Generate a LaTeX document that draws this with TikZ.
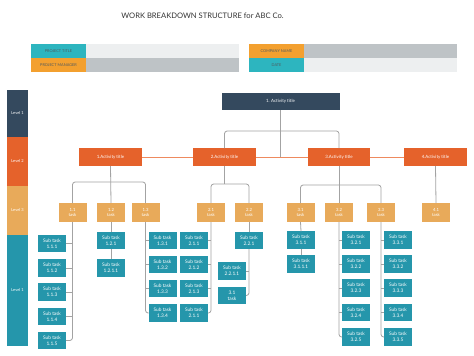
\documentclass[tikz,border=0pt]{standalone}
\usepackage{fontspec}
\setmainfont{Lato}
\usetikzlibrary{calc}
\definecolor{navy}{HTML}{34495E}
\definecolor{actor}{HTML}{E5622B}
\definecolor{taskor}{HTML}{E8AA5A}
\definecolor{subteal}{HTML}{2596AB}
\definecolor{hdteal}{HTML}{2DB5BF}
\definecolor{hdor}{HTML}{F3A02F}
\definecolor{lgray}{HTML}{EDEFF0}
\definecolor{dgray}{HTML}{BEC3C6}
\definecolor{wirec}{HTML}{A3A3A3}
\definecolor{orwirec}{HTML}{EE8A5E}
\definecolor{hdtext}{HTML}{505A5E}
\begin{document}
\begin{tikzpicture}[x=0.75pt,y=-0.75pt,
  box/.style={rectangle, inner sep=0pt, outer sep=0pt, text=white, align=center},
  l1box/.style={box, fill=navy, minimum width=88.5pt, minimum height=13pt, font=\fontsize{3.3}{4}\selectfont},
  l2box/.style={box, fill=actor, minimum width=47pt, minimum height=13.5pt, font=\fontsize{3.3}{4}\selectfont},
  l3box/.style={box, fill=taskor, minimum width=21pt, minimum height=14.25pt, font=\fontsize{3.2}{4.4}\selectfont},
  l4box/.style={box, fill=subteal, minimum width=21pt, minimum height=13pt, font=\fontsize{3.6}{4.6}\selectfont},
  lvbar/.style={box, minimum width=15.75pt, font=\fontsize{3}{3.6}\selectfont},
  hdlab/.style={box, minimum width=41.25pt, minimum height=10.5pt, text=hdtext, font=\fontsize{2.9}{3.4}\selectfont},
  hdval/.style={box, minimum width=114.75pt, minimum height=10.5pt, anchor=west},
  wire/.style={draw=wirec, line width=0.6pt, rounded corners=2pt},
  orwire/.style={draw=orwirec, line width=0.6pt}
]
\useasboundingbox (0,0) rectangle (474,356);
\fill[white] (0,0) rectangle (474,356);

% title
\node[font=\fontsize{5.7}{6.5}\selectfont, text=black!80] (title) at (202.5,15.5) {WORK BREAKDOWN STRUCTURE for ABC Co.};

% header
\node[hdlab, fill=hdteal] (ptl) at (58.5,51) {PROJECT TITLE};
\node[hdval, fill=lgray] (ptv) at (ptl.east) {};
\node[hdlab, fill=hdor] (pml) at (58.5,65) {PROJECT MANAGER};
\node[hdval, fill=dgray] (pmv) at (pml.east) {};
\node[hdlab, fill=hdor] (cnl) at (276.5,51) {COMPANY NAME};
\node[hdval, fill=dgray] (cnv) at (cnl.east) {};
\node[hdlab, fill=hdteal] (dtl) at (276.5,65) {DATE};
\node[hdval, fill=lgray] (dtv) at (dtl.east) {};

% level bars
\node[lvbar, fill=navy, minimum height=35.25pt] (lv1) at (17.5,113.5) {Level 1};
\node[lvbar, fill=actor, minimum height=36.75pt] (lv2) at (17.5,161.5) {Level 2};
\node[lvbar, fill=taskor, minimum height=36.75pt] (lv3) at (17.5,210.5) {Level 3};
\node[lvbar, fill=subteal, minimum height=83.25pt] (lv4) at (17.5,290.5) {Level 1};

% level 1
\node[l1box] (L1) at (280.5,101.5) {1. Activity title};

% level 2
\node[l2box] (A1) at (110.5,157) {1.Activity title};
\node[l2box] (A2) at (224.5,157) {2.Activity title};
\node[l2box] (A3) at (339,157) {3.Activity title};
\node[l2box] (A4) at (435.5,157) {4.Activity title};

% level 3
\node[l3box] (T11) at (72.5,212.5) {1.1\\task};
\node[l3box] (T12) at (111,212.5) {1.2\\task};
\node[l3box] (T13) at (145.5,212.5) {1.3\\task};
\node[l3box] (T21) at (211,212.5) {2.1\\task};
\node[l3box] (T22) at (249,212.5) {2.2\\task};
\node[l3box] (T31) at (300.5,212.5) {3.1\\task};
\node[l3box] (T32) at (339,212.5) {3.2\\task};
\node[l3box] (T33) at (381,212.5) {3.3\\task};
\node[l3box] (T41) at (436,212.5) {4.1\\task};

% level 4 : 1.1
\node[l4box] (S111) at (52,243.5) {Sub task\\1.1.1};
\node[l4box] (S112) at (52,268) {Sub task\\1.1.2};
\node[l4box] (S113) at (52,292) {Sub task\\1.1.3};
\node[l4box] (S114) at (52,316.5) {Sub task\\1.1.4};
\node[l4box] (S115) at (52,340.5) {Sub task\\1.1.5};
% 1.2
\node[l4box] (S121) at (111,240.5) {Sub task\\1.2.1};
\node[l4box] (S1211) at (111,268) {Sub task\\1.2.1.1};
% 1.3
\node[l4box] (S131) at (162.5,240.5) {Sub task\\1.3.1};
\node[l4box] (S132) at (162.5,264.5) {Sub task\\1.3.2};
\node[l4box] (S133) at (162.5,288.5) {Sub task\\1.3.3};
\node[l4box] (S134) at (162.5,313) {Sub task\\1.3.4};
% 2.1
\node[l4box] (S211) at (194,240.5) {Sub task\\2.1.1};
\node[l4box] (S212) at (194,264.5) {Sub task\\2.1.2};
\node[l4box] (S213) at (194,288.5) {Sub task\\2.1.3};
\node[l4box] (S214) at (194,313) {Sub task\\2.1.1};
% 2.2
\node[l4box] (S221) at (249,240.5) {Sub task\\2.2.1};
\node[l4box] (S2211) at (232,271) {Sub task\\2.2.1.1};
\node[l4box] (S22b) at (232,295.5) {3.1\\task};
% 3.1
\node[l4box] (S311) at (301,240) {Sub task\\3.1.1};
\node[l4box] (S3111) at (301,264) {Sub task\\3.1.1.1};
% 3.2
\node[l4box] (S321) at (356,240) {Sub task\\3.2.1};
\node[l4box] (S322) at (356,264) {Sub task\\3.2.2};
\node[l4box] (S323) at (356,288) {Sub task\\3.2.3};
\node[l4box] (S324) at (356,312.5) {Sub task\\3.2.4};
\node[l4box] (S325) at (356,337) {Sub task\\3.2.5};
% 3.3
\node[l4box] (S331) at (398,240) {Sub task\\3.3.1};
\node[l4box] (S332) at (398,264) {Sub task\\3.3.2};
\node[l4box] (S333) at (398,288) {Sub task\\3.3.3};
\node[l4box] (S334) at (398,312.5) {Sub task\\3.3.4};
\node[l4box] (S335) at (398,337) {Sub task\\3.3.5};

% junction coordinates
\coordinate (j0) at (280.5,131);
\coordinate (j1) at (110.5,182);
\coordinate (j2) at (224.5,184);
\coordinate (j3) at (339,185);

% level 1 -> level 2
\draw[wire] (L1.south) -- (L1.south |- A2.east);
\draw[wire] (A2.north) |- (j0) -| (A3.north);
\draw[orwire] (A1.east) -- (A2.west);
\draw[orwire] (A2.east) -- (A3.west);
\draw[orwire] (A3.east) -- (A4.west);

% level 2 -> level 3
\draw[wire] (A1.south) -- (T12.north);
\draw[wire] (T11.north) |- (j1) -| (T13.north);
\draw[wire] (A2.south) -- (j2);
\draw[wire] (T21.north) |- (j2) -| (T22.north);
\draw[wire] (A3.south) -- (T32.north);
\draw[wire] (T31.north) |- (j3) -| (T33.north);
\draw[wire] (A4.south) -- (T41.north);

% level 3 -> level 4
\draw[wire] (T11.south) |- (S115.east);
\foreach \n in {S111,S112,S113,S114} \draw[wire] (\n.east) -- (\n.east -| T11.south);
\draw[wire] (T12.south) -- (S121.north);
\draw[wire] (S121.south) -- (S1211.north);
\draw[wire] (T13.south) |- (S134.west);
\foreach \n in {S131,S132,S133} \draw[wire] (\n.west) -- (\n.west -| T13.south);
\draw[wire] (T21.south) |- (S214.east);
\foreach \n in {S211,S212,S213} \draw[wire] (\n.east) -- (\n.east -| T21.south);
\draw[wire] (T22.south) -- (S221.north);
\draw[wire] (S221.south) |- (S22b.east);
\draw[wire] (S2211.east) -- (S2211.east -| S221.south);
\draw[wire] (T31.south) -- (S311.north);
\draw[wire] (S311.south) -- (S3111.north);
\draw[wire] (T32.south) |- (S325.west);
\foreach \n in {S321,S322,S323,S324} \draw[wire] (\n.west) -- (\n.west -| T32.south);
\draw[wire] (T33.south) |- (S335.west);
\foreach \n in {S331,S332,S333,S334} \draw[wire] (\n.west) -- (\n.west -| T33.south);
\end{tikzpicture}
\end{document}
